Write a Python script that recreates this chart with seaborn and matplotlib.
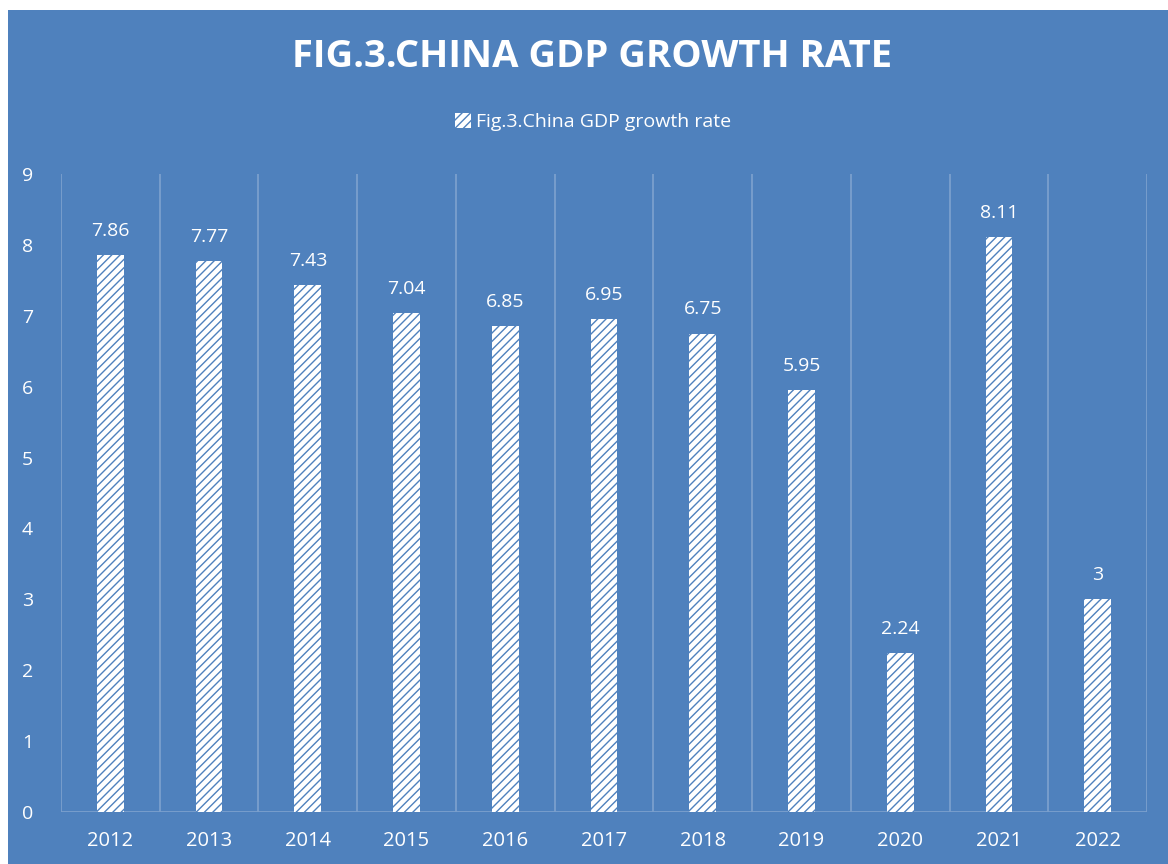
import matplotlib
matplotlib.use("Agg")
import matplotlib.pyplot as plt
import matplotlib.patches as mpatches
import seaborn as sns
import pandas as pd

years = ["2012", "2013", "2014", "2015", "2016", "2017", "2018", "2019", "2020", "2021", "2022"]
growth = [7.86, 7.77, 7.43, 7.04, 6.85, 6.95, 6.75, 5.95, 2.24, 8.11, 3]
y_ticks = [0, 1, 2, 3, 4, 5, 6, 7, 8, 9]
title = "FIG.3.CHINA GDP GROWTH RATE"
series_name = "Fig.3.China GDP growth rate"

BLUE = "#4F81BD"
GRID = "#7BA0CD"
FONT = ["Open Sans", "DejaVu Sans"]

sns.set_theme(style="white")
plt.rcParams["font.family"] = FONT
plt.rcParams["hatch.linewidth"] = 1.0
plt.rcParams["hatch.color"] = BLUE

df = pd.DataFrame({"year": years, "growth": growth})

fig = plt.figure(figsize=(11.68, 8.64), dpi=100, facecolor="white")
fig.patches.append(mpatches.Rectangle((8 / 1168, 0), 1, 1 - 10 / 864,
                                      transform=fig.transFigure, facecolor=BLUE,
                                      edgecolor="none", zorder=-10))
ax = fig.add_axes([61 / 1168, 1 - 812 / 864, (1147 - 61) / 1168, (812 - 174) / 864])
ax.set_facecolor("none")

sns.barplot(data=df, x="year", y="growth", ax=ax, width=0.27, color="white",
            saturation=1, edgecolor=BLUE, linewidth=0, zorder=3)
for p in ax.patches:
    p.set_hatch("////")
    p.set_edgecolor(BLUE)
    p.set_facecolor("white")

labels = [f"{v:g}" for v in growth]
ax.bar_label(ax.containers[0], labels=labels, padding=11, color="white", fontsize=14)

ax.set_ylim(0, 9)
ax.set_xlim(-0.5, len(years) - 0.5)
ax.set_yticks(y_ticks)
ax.set_yticklabels([str(t) for t in y_ticks], color="white", fontsize=14)
ax.tick_params(axis="y", length=0, pad=20)
ax.tick_params(axis="x", length=0, pad=14, labelcolor="white", labelsize=14.5)
ax.set_xlabel("")
ax.set_ylabel("")

for b in [i - 0.5 for i in range(len(years) + 1)]:
    ax.axvline(b, color=GRID, linewidth=1.3, zorder=1)
ax.axhline(0, color=GRID, linewidth=1.3, zorder=1)
for s in ax.spines.values():
    s.set_visible(False)

fig.text(0.507, 1 - 57 / 864, title, ha="center", va="center", color="white",
         fontsize=27.5, fontweight="bold")

handle = mpatches.Patch(facecolor="white", edgecolor=BLUE, hatch="////", linewidth=0)
leg = fig.legend([handle], [series_name], loc="center", bbox_to_anchor=(0.508, 1 - 122 / 864),
                 frameon=False, fontsize=14, handlelength=0.8, handleheight=0.8,
                 handletextpad=0.3, labelcolor="white")

fig.savefig("out.png", dpi=100, facecolor="white")
